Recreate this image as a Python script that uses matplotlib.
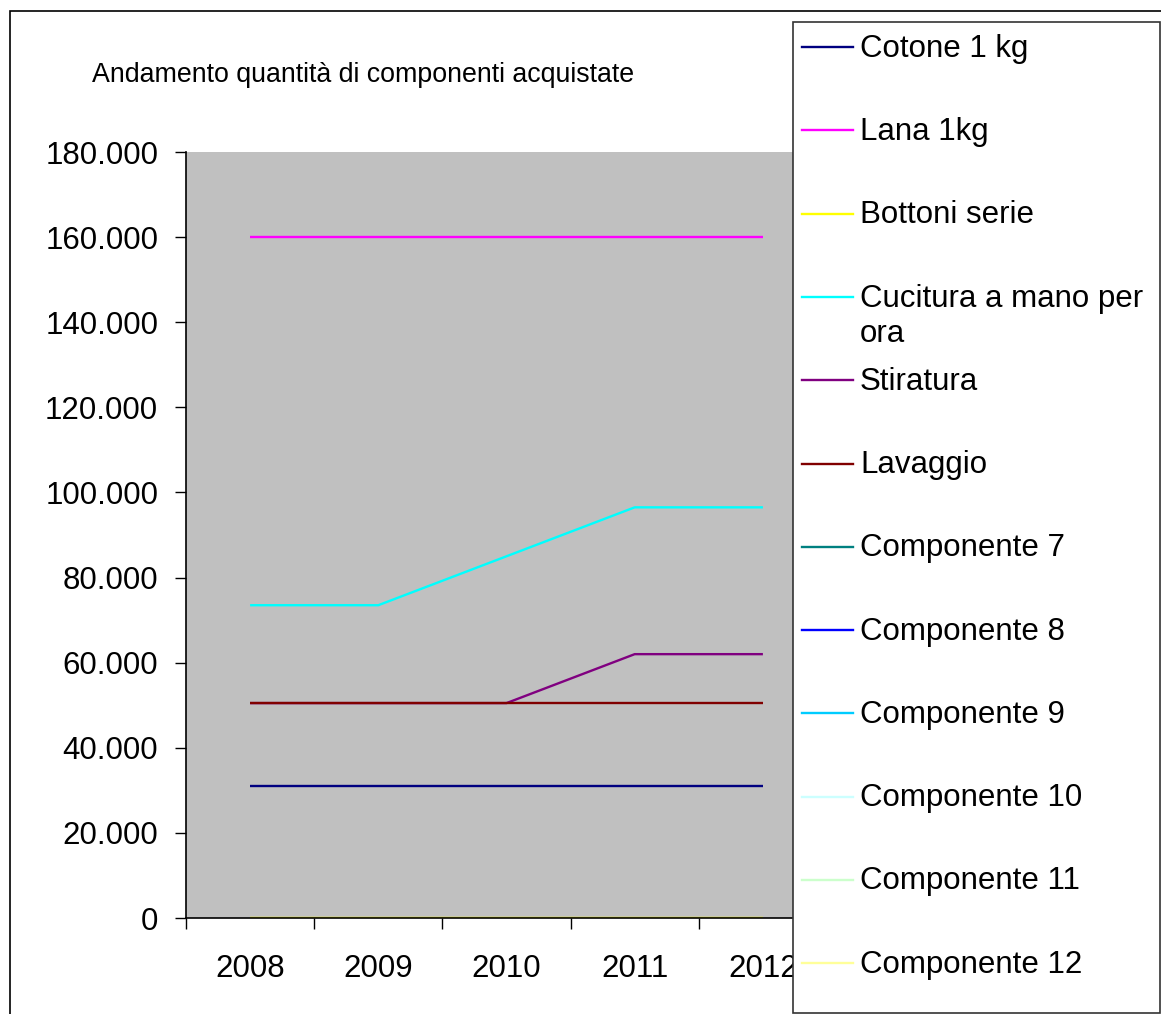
import numpy as np
import matplotlib
matplotlib.use("Agg")
import matplotlib.pyplot as plt
from matplotlib.patches import Rectangle
from matplotlib.lines import Line2D
from matplotlib.ticker import FuncFormatter

plt.rcParams['font.family'] = ['Liberation Sans', 'DejaVu Sans']

# data
years = ['2008', '2009', '2010', '2011', '2012']
cotone = [31000, 31000, 31000, 31000, 31000]
lana = [160000, 160000, 160000, 160000, 160000]
bottoni = [0, 0, 0, 0, 0]
cucitura = [73500, 73500, 85000, 96500, 96500]
stiratura = [50500, 50500, 50500, 62000, 62000]
lavaggio = [50500, 50500, 50500, 50500, 50500]
vuoto = [None, None, None, None, None]   # componenti 7-12 senza dati

labels = ['Cotone 1 kg', 'Lana 1kg', 'Bottoni serie', 'Cucitura a mano per\nora',
          'Stiratura', 'Lavaggio', 'Componente 7', 'Componente 8', 'Componente 9',
          'Componente 10', 'Componente 11', 'Componente 12']
series = [cotone, lana, bottoni, cucitura, stiratura, lavaggio,
          vuoto, vuoto, vuoto, vuoto, vuoto, vuoto]
colors = ['#000080', '#FF00FF', '#FFFF00', '#00FFFF', '#800080', '#800000',
          '#008080', '#0000FF', '#00CCFF', '#CCFFFF', '#CCFFCC', '#FFFF99']

W, H = 1161, 1014
fig = plt.figure(figsize=(W / 100, H / 100), dpi=100)

# chart border (cut by the image edges)
fig.patches.append(Rectangle((10 / W, -0.2), 1.5, 1 - 11 / H + 0.2, transform=fig.transFigure,
                             facecolor='none', edgecolor='black', lw=1.2, zorder=0.5))

ax = fig.add_axes([186 / W, 1 - 918 / H, 641 / W, 766 / H])
ax.set_facecolor('#C0C0C0')
x = np.arange(len(years))
for vals, c in zip(series, colors):
    y = np.array([np.nan if v is None else v for v in vals], dtype=float)
    ax.plot(x, y, color=c, lw=1.7, solid_capstyle='butt')

ax.set_xlim(-0.5, len(years) - 0.5)
ax.set_ylim(0, 180000)
ax.set_yticks(np.arange(0, 180001, 20000))
ax.yaxis.set_major_formatter(FuncFormatter(lambda v, p: f"{int(v):,}".replace(',', '.')))
ax.set_xticks(x)
ax.set_xticklabels(years)
ax.set_xticks(np.arange(-0.5, len(years), 1), minor=True)
ax.tick_params(axis='x', which='major', length=0, pad=26, labelsize=22.5)
ax.tick_params(axis='x', which='minor', length=8, width=1)
ax.tick_params(axis='y', length=8, width=1, pad=12, labelsize=22.5)
for s in ['top', 'right']:
    ax.spines[s].set_visible(False)
for s in ['left', 'bottom']:
    ax.spines[s].set_linewidth(1.2)

fig.text(92 / W, 1 - 75 / H, 'Andamento quantità di componenti acquistate',
         fontsize=19.3, va='center', ha='left')

# legend box drawn by hand, Excel style
fig.patches.append(Rectangle((793 / W, 1 - 1013 / H), 367 / W, 991 / H, transform=fig.transFigure,
                             facecolor='white', edgecolor='#333333', lw=1.2, zorder=2))
for i, (lab, c) in enumerate(zip(labels, colors)):
    yy = 1 - (47 + 83.3 * i) / H
    fig.add_artist(Line2D([802 / W, 853 / W], [yy, yy], transform=fig.transFigure,
                          color=c, lw=1.7, zorder=3))
    if '\n' in lab:
        fig.text(860 / W, yy + 13 / H, lab, fontsize=22.5, va='top', ha='left',
                 zorder=4, linespacing=1.2)
    else:
        fig.text(860 / W, yy - 1.5 / H, lab, fontsize=22.5, va='center', ha='left', zorder=4)

fig.savefig('out.png', dpi=100)
